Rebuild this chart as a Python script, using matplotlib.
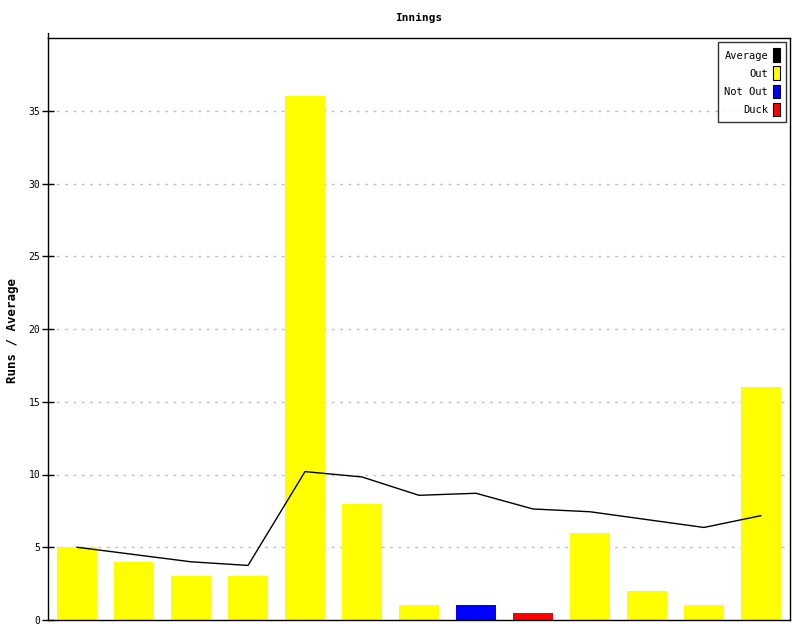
import matplotlib
matplotlib.use("Agg")
import matplotlib.pyplot as plt
from matplotlib.patches import Patch

# Innings data
innings = list(range(1, 14))
runs = [5, 4, 3, 3, 36, 8, 1, 1, 0.5, 6, 2, 1, 16]
kind = ["Out", "Out", "Out", "Out", "Out", "Out", "Out", "Not Out", "Duck",
        "Out", "Out", "Out", "Out"]
average = [5.0, 4.5, 4.0, 3.75, 10.2, 9.83, 8.57, 8.71, 7.63, 7.44, 6.9, 6.36, 7.17]

colors = {"Out": "#ffff00", "Not Out": "#0000ff", "Duck": "#ff0000", "Average": "#000000"}

plt.rcParams["font.family"] = ["DejaVu Sans Mono"]

fig = plt.figure(figsize=(8, 6.4), dpi=100)
ax = fig.add_axes([0.06, 0.03125, 0.9275, 0.909375])

x = list(range(len(innings)))
ax.bar(x, runs, width=0.7, color=[colors[k] for k in kind], zorder=2)
ax.plot(x, average, color="black", linewidth=1, zorder=3)

ax.set_xlim(-0.51, 12.51)
ax.set_ylim(0, 40)
ax.set_yticks(range(0, 40, 5))
ax.set_xticks([])
ax.tick_params(axis="y", length=9, width=1, labelsize=7, direction="inout", pad=1)
for v in range(5, 40, 5):
    ax.axhline(v, color="#c0c0c0", linestyle=(0, (2, 4)), linewidth=1, zorder=1)

for s in ax.spines.values():
    s.set_linewidth(1)
# left axis line runs a little above the frame
ax.plot([-0.51, -0.51], [40, 40.35], color="black", linewidth=1, clip_on=False)

ax.set_title("Innings", fontsize=8, fontweight="bold", pad=12)
fig.text(0.016, 0.484, "Runs / Average", rotation=90, fontsize=9, fontweight="bold",
         ha="center", va="center")

handles = [Patch(facecolor=colors[k], edgecolor="black", linewidth=0.8, label=k)
           for k in ["Average", "Out", "Not Out", "Duck"]]
leg = ax.legend(handles=handles, loc="upper right", markerfirst=False,
                fontsize=7.5, frameon=True, fancybox=False, edgecolor="black",
                handlelength=0.6, handleheight=1.6, handletextpad=0.5,
                labelspacing=0.45, borderpad=0.6, borderaxespad=0.4)
leg.get_frame().set_linewidth(1)
for t in leg.get_texts():
    t.set_ha("right")

fig.savefig("out.png", dpi=100)
